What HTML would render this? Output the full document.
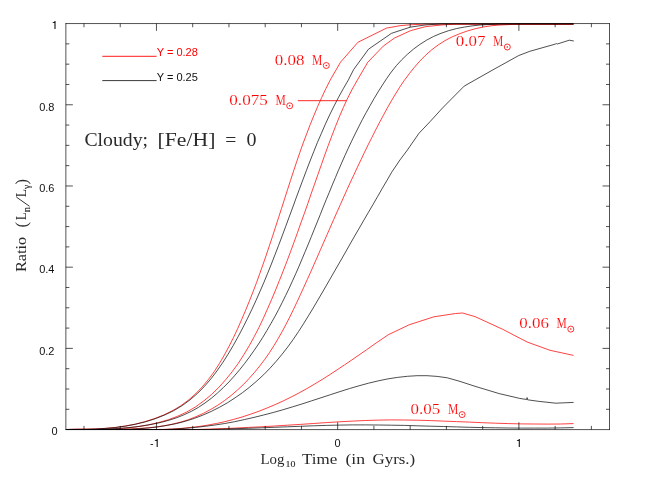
<!DOCTYPE html>
<html><head><meta charset="utf-8"><title>Ratio plot</title>
<style>
html,body{margin:0;padding:0;background:#fff;}
svg{display:block}
text{font-family:"Liberation Sans",sans-serif;}
.s{font-family:"Liberation Sans",sans-serif;font-size:11.6px}
.r{font-family:"Liberation Serif",serif;font-size:14.5px;stroke:#fff;stroke-width:0.15px}
.big{font-family:"Liberation Serif",serif;font-size:18px}
.t{font-family:"Liberation Serif",serif;font-size:14.5px}
.tsub{font-family:"Liberation Serif",serif;font-size:9.5px;stroke:#2a2a2a;stroke-width:0.12px}
.sub{font-family:"Liberation Serif",serif;font-size:8.5px;stroke:#2a2a2a;stroke-width:0.12px}
</style></head>
<body>
<svg width="648" height="484" viewBox="0 0 648 484" style="will-change:transform">
<rect x="0" y="0" width="648" height="484" fill="#fff"/>
<polyline points="66.0,429.5 79.0,429.5 92.1,429.5 105.1,429.5 118.1,429.5 131.2,429.5 144.2,429.5 157.2,429.5 170.2,429.5 183.2,429.5 196.3,429.5 209.3,429.1 222.3,428.6 235.3,428.1 248.3,427.4 261.3,426.8 274.3,426.0 287.3,425.2 300.3,424.4 313.3,423.5 326.3,422.6 339.3,421.8 352.3,421.1 365.3,420.5 378.3,420.1 391.3,419.9 404.4,420.0 417.4,420.2 430.4,420.6 443.4,421.1 456.4,421.6 469.4,422.1 482.4,422.7 495.5,423.2 508.5,423.6 521.5,423.9 534.5,424.0 547.5,424.1 560.6,424.0 573.6,423.6" fill="none" stroke="#ff0000" stroke-width="0.74" stroke-linejoin="round"/>
<polyline points="66.0,429.5 74.7,429.3 83.4,429.2 92.2,429.3 101.1,429.4 109.9,429.5 118.9,429.5 127.8,429.5 136.7,429.5 145.7,429.5 154.6,429.5 163.6,429.4 172.5,429.0 181.4,428.4 190.2,427.5 199.0,426.5 207.8,425.1 216.4,423.5 225.1,421.6 233.6,419.4 242.1,417.0 250.5,414.2 258.8,411.3 267.0,408.0 275.2,404.6 283.3,400.9 291.2,397.0 299.1,392.9 306.9,388.6 314.5,384.1 322.1,379.5 329.7,374.7 337.1,369.8 344.5,364.9 351.9,359.9 359.2,354.8 366.5,349.8 373.7,344.7 381.0,339.7 388.2,334.8 409.1,324.8 433.9,316.8 455.6,313.5 462.6,313.0 475.0,316.6 502.9,329.4 527.1,342.0 550.0,350.3 573.6,355.4" fill="none" stroke="#ff0000" stroke-width="0.74" stroke-linejoin="round"/>
<polyline points="66.0,429.5 74.2,429.5 82.4,429.5 90.6,429.5 98.9,429.5 107.1,429.5 115.3,429.4 123.5,429.2 131.7,428.9 140.0,428.4 148.2,427.8 156.4,426.9 164.5,425.7 172.6,424.1 180.6,422.1 188.4,419.7 196.0,416.7 203.5,413.3 210.8,409.4 217.8,405.2 224.6,400.5 231.1,395.5 237.4,390.1 243.4,384.5 249.1,378.5 254.6,372.3 259.8,365.9 264.8,359.3 269.5,352.6 273.9,345.7 278.1,338.7 282.2,331.5 286.0,324.3 289.8,317.0 293.4,309.6 296.9,302.2 300.4,294.7 303.8,287.2 307.2,279.7 310.6,272.2 313.9,264.7 317.2,257.2 320.5,249.6 323.8,242.1 327.1,234.6 330.4,227.0 333.7,219.5 337.0,212.0 340.4,204.5 343.7,197.0 347.1,189.5 350.5,182.0 354.0,174.6 357.4,167.2 361.0,159.7 364.5,152.3 368.1,144.9 371.8,137.6 375.5,130.2 379.3,122.9 383.2,115.6 387.1,108.4 391.2,101.2 395.4,94.2 399.7,87.2 404.3,80.4 409.2,73.8 414.3,67.4 419.7,61.2 425.5,55.3 431.6,49.9 438.1,45.0 445.0,40.6 452.3,36.8 459.9,33.6 467.7,30.9 475.7,28.6 483.8,26.9 491.9,25.7 500.0,25.0 520.0,24.1 573.5,24.1" fill="none" stroke="#ff0000" stroke-width="0.74" stroke-linejoin="round"/>
<polyline points="66.0,429.5 75.9,429.5 86.0,429.5 96.3,429.5 106.7,429.3 117.1,428.8 127.6,427.9 138.0,426.6 148.3,424.9 158.3,422.6 168.2,419.8 177.7,416.2 186.8,412.0 195.5,406.9 203.7,401.0 211.5,394.5 218.8,387.4 225.7,379.7 232.2,371.7 238.3,363.3 243.9,354.6 249.2,345.8 254.2,336.7 258.9,327.6 263.3,318.3 267.5,308.9 271.6,299.5 275.6,290.0 279.4,280.5 283.2,271.0 286.9,261.4 290.5,251.8 294.0,242.2 297.5,232.6 300.9,222.9 304.4,213.3 307.8,203.6 311.1,193.9 314.5,184.3 317.9,174.6 321.3,164.9 324.7,155.2 328.2,145.6 331.8,136.0 335.5,126.4 339.3,116.9 343.4,107.4 347.7,98.1 352.3,89.0 357.4,80.0 367.8,62.2 383.3,46.1 394.5,38.0 400.0,35.5 410.5,30.7 424.8,26.8 441.0,25.0 456.0,24.1 573.5,24.1" fill="none" stroke="#ff0000" stroke-width="0.74" stroke-linejoin="round"/>
<polyline points="66.0,429.5 75.9,429.4 85.6,429.3 95.3,429.0 105.0,428.4 114.8,427.5 124.6,426.1 134.5,424.3 144.3,421.8 153.9,418.8 163.2,415.2 172.1,410.9 180.4,406.0 188.2,400.3 195.4,394.0 202.1,387.1 208.3,379.6 214.1,371.8 219.4,363.5 224.4,355.0 229.1,346.2 233.6,337.3 237.8,328.3 241.8,319.2 245.7,310.1 249.4,301.0 253.0,291.9 256.5,282.7 259.8,273.5 263.1,264.2 266.3,255.0 269.4,245.7 272.5,236.4 275.5,227.1 278.5,217.8 281.5,208.5 284.5,199.1 287.5,189.8 290.5,180.4 293.6,171.0 296.7,161.7 299.9,152.3 303.2,143.0 306.7,133.8 310.2,124.6 313.9,115.5 317.7,106.4 321.7,97.5 325.9,88.6 330.3,79.9 340.5,62.2 357.9,42.3 386.5,28.1 400.0,25.7 410.0,24.8 425.0,24.1 573.5,24.1" fill="none" stroke="#ff0000" stroke-width="0.74" stroke-linejoin="round"/>
<polyline points="66.0,429.5 79.0,429.5 92.0,429.5 105.1,429.5 118.1,429.5 131.1,429.5 144.1,429.5 157.1,429.5 170.2,429.5 183.2,429.5 196.2,429.5 209.2,429.5 222.2,429.1 235.2,428.7 248.2,428.3 261.3,427.8 274.3,427.3 287.3,426.8 300.3,426.3 313.3,425.8 326.3,425.4 339.3,425.1 352.3,424.9 365.3,424.9 378.3,425.0 391.4,425.2 404.4,425.4 417.4,425.8 430.4,426.2 443.4,426.5 456.4,426.9 469.5,427.3 482.5,427.6 495.5,427.8 508.5,428.0 521.5,428.1 534.5,428.1 547.6,428.1 560.6,427.9 573.6,427.6" fill="none" stroke="#0a0a0a" stroke-width="0.72" stroke-linejoin="round"/>
<polyline points="66.0,429.5 75.9,429.5 85.8,429.5 95.7,429.5 105.7,429.5 115.7,429.5 125.7,429.5 135.7,429.5 145.6,429.5 155.6,429.5 165.6,429.5 175.5,429.0 185.4,428.3 195.3,427.4 205.2,426.3 215.0,425.0 224.8,423.5 234.6,421.7 244.3,419.6 254.0,417.4 263.6,415.0 273.2,412.5 282.8,409.8 292.4,406.9 301.9,404.0 311.4,400.9 320.9,397.8 330.4,394.7 339.9,391.6 349.4,388.6 359.0,385.8 368.5,383.2 378.1,380.9 387.8,378.9 397.5,377.4 407.3,376.3 417.1,375.7 427.1,375.7 437.1,376.4 447.3,377.8 460.0,381.4 475.0,386.3 499.2,393.6 519.7,398.4 526.6,399.5 527.1,397.6 527.6,399.8 538.3,401.3 555.9,403.2 573.6,402.4" fill="none" stroke="#0a0a0a" stroke-width="0.72" stroke-linejoin="round"/>
<polyline points="66.0,429.5 74.9,429.4 83.9,429.5 93.1,429.5 102.4,429.5 111.7,429.5 121.1,429.5 130.5,429.2 139.8,428.7 149.2,427.9 158.5,426.8 167.6,425.3 176.7,423.5 185.6,421.2 194.3,418.4 202.9,415.1 211.3,411.4 219.4,407.3 227.4,402.8 235.1,397.8 242.6,392.6 249.9,386.9 256.9,380.9 263.7,374.7 270.1,368.1 276.3,361.2 282.2,354.1 287.9,346.8 293.3,339.3 298.5,331.6 303.5,323.8 308.4,315.9 313.2,308.0 317.9,300.0 322.6,292.0 327.2,284.0 331.8,276.0 336.4,268.0 341.0,260.0 345.6,252.0 350.1,244.0 354.7,236.0 359.3,228.1 363.9,220.1 368.5,212.2 373.2,204.2 377.8,196.2 382.4,188.2 387.1,180.2 391.7,172.2 400.0,159.9 407.4,150.0 418.9,133.4 430.0,121.7 442.5,108.0 464.2,86.1 493.0,69.8 518.6,55.6 529.8,51.3 555.3,44.1 556.3,43.5 557.3,44.0 569.3,40.2 573.8,41.0" fill="none" stroke="#0a0a0a" stroke-width="0.72" stroke-linejoin="round"/>
<polyline points="66.0,429.5 74.0,429.5 82.0,429.5 90.0,429.5 98.0,429.4 105.9,429.1 113.9,428.7 121.9,428.2 129.8,427.5 137.8,426.6 145.7,425.4 153.5,424.0 161.4,422.3 169.1,420.2 176.8,417.7 184.2,414.7 191.4,411.3 198.4,407.4 205.0,403.0 211.4,398.2 217.5,393.0 223.3,387.6 229.0,381.9 234.4,375.9 239.6,369.8 244.6,363.5 249.4,357.1 254.0,350.6 258.5,344.0 262.8,337.3 266.9,330.5 270.9,323.6 274.8,316.7 278.6,309.6 282.2,302.5 285.7,295.4 289.2,288.2 292.5,280.9 295.8,273.6 299.0,266.3 302.1,258.9 305.2,251.5 308.3,244.1 311.3,236.7 314.3,229.3 317.3,221.9 320.3,214.5 323.2,207.1 326.2,199.7 329.3,192.3 332.3,184.9 335.4,177.6 338.5,170.2 341.7,162.9 344.9,155.6 348.2,148.4 351.6,141.2 355.1,134.0 358.7,126.8 362.3,119.7 366.1,112.7 370.0,105.7 374.0,98.7 378.1,91.9 382.4,85.1 386.7,78.5 391.3,72.0 396.3,65.7 401.7,59.8 407.4,54.3 413.5,49.1 419.9,44.4 426.7,40.1 433.7,36.4 441.0,33.3 448.6,30.7 456.3,28.6 464.2,27.1 472.1,25.9 480.0,25.0 500.0,23.9 573.5,23.9" fill="none" stroke="#0a0a0a" stroke-width="0.72" stroke-linejoin="round"/>
<polyline points="66.0,429.5 76.0,429.4 85.9,429.3 95.8,429.0 105.7,428.4 115.7,427.5 125.7,426.1 135.7,424.2 145.6,421.8 155.3,418.7 164.7,415.0 173.7,410.7 182.2,405.6 190.1,399.8 197.5,393.4 204.4,386.4 210.9,378.9 216.9,371.0 222.7,362.7 228.1,354.2 233.2,345.5 238.1,336.7 242.8,327.8 247.3,318.8 251.7,309.8 255.9,300.7 259.9,291.6 263.9,282.4 267.7,273.2 271.4,264.0 275.0,254.7 278.6,245.4 282.1,236.1 285.6,226.7 289.0,217.4 292.5,208.0 295.9,198.6 299.4,189.2 302.9,179.8 306.4,170.5 310.0,161.1 313.7,151.8 317.4,142.5 321.4,133.3 325.4,124.1 329.6,115.0 334.0,106.1 338.6,97.2 343.4,88.5 348.4,79.9 353.6,69.6 368.5,49.2 391.4,33.4 400.0,30.5 410.5,27.1 425.0,25.0 441.0,23.9 573.5,23.9" fill="none" stroke="#0a0a0a" stroke-width="0.72" stroke-linejoin="round"/>
<path d="M65.87 429.94V23.22M65.53 23.56H609.84M609.5 23.22V429.94M609.84 429.6H65.53" fill="none" stroke="#000" stroke-width="0.68"/>
<path d="M83.97 429.6v-3.7M83.97 23.56v3.7M120.22 429.6v-3.7M120.22 23.56v3.7M156.46 429.6v-7.3M156.46 23.56v7.3M192.70 429.6v-3.7M192.70 23.56v3.7M228.95 429.6v-3.7M228.95 23.56v3.7M265.19 429.6v-3.7M265.19 23.56v3.7M301.44 429.6v-3.7M301.44 23.56v3.7M337.68 429.6v-7.3M337.68 23.56v7.3M373.92 429.6v-3.7M373.92 23.56v3.7M410.17 429.6v-3.7M410.17 23.56v3.7M446.41 429.6v-3.7M446.41 23.56v3.7M482.66 429.6v-3.7M482.66 23.56v3.7M518.90 429.6v-7.3M518.90 23.56v7.3M555.14 429.6v-3.7M555.14 23.56v3.7M591.39 429.6v-3.7M591.39 23.56v3.7M65.87 409.30h3.5M609.5 409.30h-3.5M65.87 389.00h3.5M609.5 389.00h-3.5M65.87 368.69h3.5M609.5 368.69h-3.5M65.87 348.39h7.0M609.5 348.39h-7.0M65.87 328.09h3.5M609.5 328.09h-3.5M65.87 307.79h3.5M609.5 307.79h-3.5M65.87 287.49h3.5M609.5 287.49h-3.5M65.87 267.18h7.0M609.5 267.18h-7.0M65.87 246.88h3.5M609.5 246.88h-3.5M65.87 226.58h3.5M609.5 226.58h-3.5M65.87 206.28h3.5M609.5 206.28h-3.5M65.87 185.98h7.0M609.5 185.98h-7.0M65.87 165.67h3.5M609.5 165.67h-3.5M65.87 145.37h3.5M609.5 145.37h-3.5M65.87 125.07h3.5M609.5 125.07h-3.5M65.87 104.77h7.0M609.5 104.77h-7.0M65.87 84.47h3.5M609.5 84.47h-3.5M65.87 64.16h3.5M609.5 64.16h-3.5M65.87 43.86h3.5M609.5 43.86h-3.5" fill="none" stroke="#000" stroke-width="0.68"/>
<path d="M102.3 56.3H156.6" stroke="#ff0000" stroke-width="0.9" fill="none"/>
<path d="M102.3 80.6H156.6" stroke="#222" stroke-width="0.9" fill="none"/>
<text class="s" x="156.7" y="56.2" fill="#ff0000" textLength="41.2" lengthAdjust="spacingAndGlyphs">Y = 0.28</text>
<text class="s" x="156.7" y="80.6" fill="#111" textLength="41.2" lengthAdjust="spacingAndGlyphs">Y = 0.25</text>
<text class="s" x="39.2" y="110.9" fill="#111" textLength="15.3" lengthAdjust="spacingAndGlyphs">0.8</text>
<text class="s" x="39.2" y="192.1" fill="#111" textLength="15.3" lengthAdjust="spacingAndGlyphs">0.6</text>
<text class="s" x="39.2" y="273.3" fill="#111" textLength="15.3" lengthAdjust="spacingAndGlyphs">0.4</text>
<text class="s" x="39.2" y="354.5" fill="#111" textLength="15.3" lengthAdjust="spacingAndGlyphs">0.2</text>
<path transform="translate(54.45 28.90)" d="M0,0V-6.0H-1.8V-6.65C-0.9,-6.7 -0.1,-7.2 0.3,-8.0H1.1V0Z" fill="#111"/>
<text class="s" x="51.4" y="435.2" fill="#111" textLength="6.1" lengthAdjust="spacingAndGlyphs">0</text>
<text class="s" x="150.0" y="446.5" fill="#111" textLength="3.6" lengthAdjust="spacingAndGlyphs">-</text>
<path transform="translate(156.65 446.90)" d="M0,0V-6.0H-1.8V-6.65C-0.9,-6.7 -0.1,-7.2 0.3,-8.0H1.1V0Z" fill="#111"/>
<text class="s" x="334.6" y="447.3" fill="#111" textLength="6.1" lengthAdjust="spacingAndGlyphs">0</text>
<path transform="translate(518.75 446.90)" d="M0,0V-6.0H-1.8V-6.65C-0.9,-6.7 -0.1,-7.2 0.3,-8.0H1.1V0Z" fill="#111"/>
<text class="r" x="274.8" y="64.5" fill="#ff0000" textLength="29.6" lengthAdjust="spacingAndGlyphs">0.08</text><text class="r" x="312.1" y="64.5" fill="#ff0000" textLength="10.3" lengthAdjust="spacingAndGlyphs">M</text><circle cx="326.3" cy="65.5" r="3.0" fill="none" stroke="#ff0000" stroke-width="0.8"/><circle cx="326.3" cy="65.5" r="0.75" fill="#ff0000"/>
<text class="r" x="229.3" y="104.8" fill="#ff0000" textLength="38.5" lengthAdjust="spacingAndGlyphs">0.075</text><text class="r" x="275.5" y="104.8" fill="#ff0000" textLength="10.3" lengthAdjust="spacingAndGlyphs">M</text><circle cx="289.7" cy="105.8" r="3.0" fill="none" stroke="#ff0000" stroke-width="0.8"/><circle cx="289.7" cy="105.8" r="0.75" fill="#ff0000"/>
<text class="r" x="455.8" y="46.0" fill="#ff0000" textLength="29.6" lengthAdjust="spacingAndGlyphs">0.07</text><text class="r" x="493.1" y="46.0" fill="#ff0000" textLength="10.3" lengthAdjust="spacingAndGlyphs">M</text><circle cx="507.3" cy="47.0" r="3.0" fill="none" stroke="#ff0000" stroke-width="0.8"/><circle cx="507.3" cy="47.0" r="0.75" fill="#ff0000"/>
<text class="r" x="519.3" y="328.1" fill="#ff0000" textLength="29.6" lengthAdjust="spacingAndGlyphs">0.06</text><text class="r" x="556.6" y="328.1" fill="#ff0000" textLength="10.3" lengthAdjust="spacingAndGlyphs">M</text><circle cx="570.8" cy="329.1" r="3.0" fill="none" stroke="#ff0000" stroke-width="0.8"/><circle cx="570.8" cy="329.1" r="0.75" fill="#ff0000"/>
<text class="r" x="410.6" y="413.6" fill="#ff0000" textLength="29.6" lengthAdjust="spacingAndGlyphs">0.05</text><text class="r" x="447.9" y="413.6" fill="#ff0000" textLength="10.3" lengthAdjust="spacingAndGlyphs">M</text><circle cx="462.1" cy="414.6" r="3.0" fill="none" stroke="#ff0000" stroke-width="0.8"/><circle cx="462.1" cy="414.6" r="0.75" fill="#ff0000"/>
<path d="M297.8 100.7H346.4" stroke="#ff0000" stroke-width="0.85" fill="none"/>
<text class="big" x="84.4" y="145.8" fill="#2a2a2a" textLength="63.6" lengthAdjust="spacingAndGlyphs">Cloudy;</text>
<text class="big" x="157.6" y="145.8" fill="#2a2a2a" textLength="57.8" lengthAdjust="spacingAndGlyphs">[Fe/H]</text>
<text class="big" x="225.3" y="145.8" fill="#2a2a2a" textLength="11.1" lengthAdjust="spacingAndGlyphs">=</text>
<text class="big" x="246.5" y="145.8" fill="#2a2a2a" textLength="10.0" lengthAdjust="spacingAndGlyphs">0</text>
<text class="t" x="260.4" y="463.7" fill="#2a2a2a" textLength="24.0" lengthAdjust="spacingAndGlyphs">Log</text>
<text class="sub" x="285.6" y="467.2" fill="#2a2a2a" textLength="9.9" lengthAdjust="spacingAndGlyphs">10</text>
<text class="t" x="302.0" y="463.7" fill="#2a2a2a" textLength="35.2" lengthAdjust="spacingAndGlyphs">Time</text>
<text class="t" x="345.4" y="463.7" fill="#2a2a2a" textLength="19.7" lengthAdjust="spacingAndGlyphs">(in</text>
<text class="t" x="372.5" y="463.7" fill="#2a2a2a" textLength="42.7" lengthAdjust="spacingAndGlyphs">Gyrs.)</text>
<g transform="translate(26.3 272.1) rotate(-90)"><text class="t" x="0.0" y="0.0" fill="#2a2a2a" textLength="35.4" lengthAdjust="spacingAndGlyphs">Ratio</text><text class="t" x="44.6" y="1.0" fill="#2a2a2a" style="font-size:16.5px">(</text><text class="t" x="51.8" y="0.0" fill="#2a2a2a" textLength="8.0" lengthAdjust="spacingAndGlyphs">L</text><text class="tsub" x="59.8" y="3.2" fill="#2a2a2a" textLength="5.2" lengthAdjust="spacingAndGlyphs">n</text><path d="M65.8 3.2L75.0 -9.9" stroke="#2a2a2a" stroke-width="0.95" fill="none"/><text class="t" x="74.8" y="0.0" fill="#2a2a2a" textLength="8.2" lengthAdjust="spacingAndGlyphs">L</text><text class="tsub" x="83.0" y="3.2" fill="#2a2a2a" textLength="4.2" lengthAdjust="spacingAndGlyphs">γ</text><text class="t" x="87.6" y="1.0" fill="#2a2a2a" style="font-size:16.5px">)</text></g>
</svg>
</body></html>
